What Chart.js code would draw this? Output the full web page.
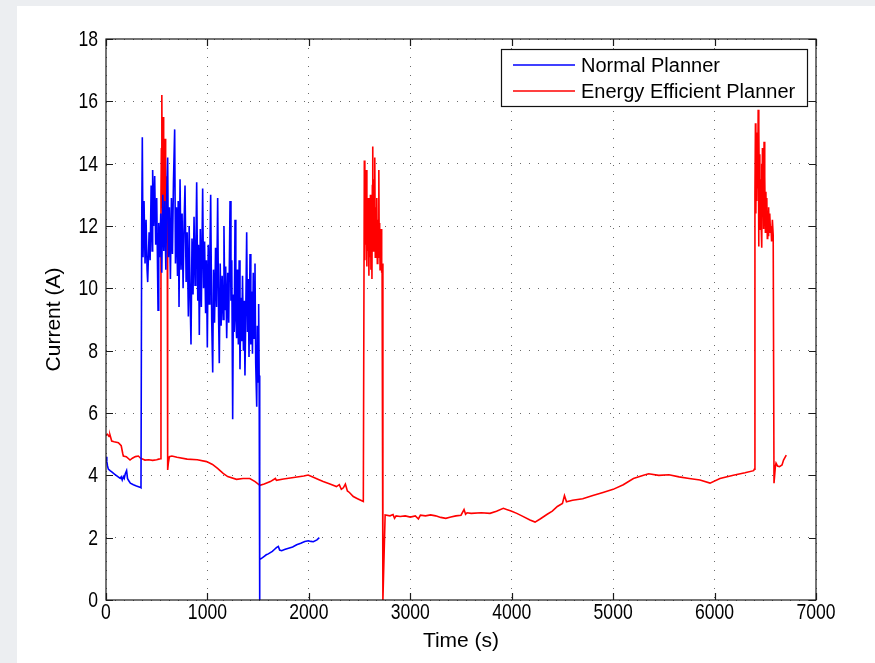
<!DOCTYPE html>
<html>
<head>
<meta charset="utf-8">
<script src="https://cdn.jsdelivr.net/npm/chart.js@4.4.1/dist/chart.umd.min.js"></script>
<style>
  html,body{margin:0;padding:0;background:#eceef1;}
  #sheet{position:absolute;left:17px;top:6px;right:0;bottom:0;background:#fff;}
  #myChart{position:absolute;left:0;top:0;}
</style>
</head>
<body>
<div id="sheet"></div>
<canvas id="myChart" width="875" height="663"></canvas>
<script>
// axis ticks
const xTicks = [0,1000,2000,3000,4000,5000,6000,7000];
const yTicks = [0,2,4,6,8,10,12,14,16,18];

// Normal planner, [time (s), current (A)]
const normalStart = [[0,4.6],[8,4.45],[15,4.3],[23,4.2],[40,4.15],[60,4.1],[80,4.05],[100,4.0],[120,3.95],[140,3.9],[150,3.95],[160,3.85],[171,3.96],[180,3.9],[190,4.05],[203,4.15],[212,3.9],[220,3.85],[240,3.75],[270,3.7],[300,3.66],[335,3.62],[345,3.6]];
const normalBurst = [[352,12.0],[358,14.85],[365,11.0],[375,12.8],[385,10.8],[395,12.2],[405,10.6],[411,10.2],[425,11.8],[435,10.9],[445,13.3],[455,11.2],[460,13.8],[470,12.0],[480,13.6],[490,11.4],[500,12.9],[513,9.3],[520,12.1],[530,11.0],[540,12.4],[550,10.5],[560,13.0],[570,11.2],[580,12.8],[590,10.6],[600,13.2],[608,14.2],[615,11.0],[625,12.6],[635,10.3],[645,12.9],[655,11.1],[665,13.4],[677,15.1],[685,10.8],[695,12.6],[705,10.4],[712,12.8],[720,9.4],[730,13.5],[740,10.6],[750,12.4],[760,10.0],[770,12.1],[779,13.3],[790,10.2],[800,11.8],[812,9.1],[820,12.0],[830,9.6],[838,8.2],[848,11.6],[858,9.8],[868,12.3],[878,10.1],[886,11.2],[894,13.4],[905,9.6],[912,11.4],[920,8.5],[930,11.9],[940,9.4],[953,13.2],[962,10.0],[972,11.5],[982,9.2],[990,10.9],[999,8.1],[1008,11.4],[1016,9.5],[1024,11.0],[1032,13.0],[1042,9.0],[1052,7.3],[1060,10.6],[1070,8.9],[1080,11.3],[1090,9.4],[1101,12.9],[1110,9.1],[1117,7.6],[1126,10.8],[1135,8.8],[1145,10.4],[1155,9.0],[1163,12.0],[1172,9.3],[1180,10.7],[1190,8.4],[1200,10.5],[1210,8.9],[1223,12.8],[1232,9.6],[1240,10.9],[1249,5.8],[1256,9.8],[1264,8.6],[1272,12.2],[1280,9.0],[1288,8.4],[1296,10.6],[1305,8.2],[1313,10.9],[1321,7.4],[1330,9.7],[1338,8.3],[1346,10.4],[1355,8.0],[1362,9.6],[1370,7.2],[1378,9.2],[1387,11.8],[1395,8.6],[1402,10.3],[1410,7.8],[1420,11.1],[1428,8.2],[1436,9.9],[1444,7.9],[1452,10.5],[1460,8.4],[1469,10.8],[1476,7.6],[1486,6.2],[1492,8.8],[1499,7.0],[1505,9.5],[1510,7.2]];
const normalEnd = [[1513,0],[1518,1.3],[1540,1.35],[1560,1.4],[1580,1.45],[1600,1.48],[1620,1.52],[1640,1.56],[1660,1.62],[1680,1.68],[1699,1.72],[1712,1.6],[1732,1.58],[1760,1.62],[1800,1.66],[1840,1.7],[1880,1.77],[1920,1.82],[1960,1.88],[1995,1.9],[2020,1.88],[2044,1.87],[2080,1.93],[2103,2.0]];

// Energy efficient planner, [time (s), current (A)]
const efficientStart = [[0,5.3],[15,5.32],[30,5.25],[39,5.3],[56,5.1],[80,5.08],[122,5.05],[150,4.95],[165,4.7],[171,4.62],[200,4.6],[237,4.49],[260,4.55],[290,4.6],[319,4.62],[340,4.55],[384,4.49],[420,4.5],[460,4.48],[500,4.5],[520,4.52],[539,4.53]];
const efficientSpike1 = [[542,13.0],[546,14.5],[549,12.6],[552,16.2],[555,13.0],[558,15.0],[561,12.4],[564,15.5],[567,12.8],[570,14.2],[573,12.2],[576,14.8],[579,12.6],[582,14.0],[585,11.8],[588,14.8],[591,12.4],[594,13.6],[597,11.6],[600,13.2],[604,12.0]];
const efficientMid1 = [[608,4.17],[615,4.4],[625,4.6],[650,4.62],[700,4.58],[800,4.52],[900,4.5],[992,4.44],[1050,4.35],[1100,4.22],[1155,4.06],[1200,3.96],[1287,3.87],[1350,3.9],[1418,3.9],[1470,3.8],[1517,3.68],[1560,3.72],[1620,3.8],[1670,3.9],[1680,3.84],[1750,3.88],[1850,3.93],[1950,3.98],[1993,4.01],[2050,3.93],[2100,3.86],[2141,3.8],[2208,3.72],[2272,3.64],[2300,3.7],[2320,3.55],[2340,3.6],[2360,3.72],[2380,3.5],[2400,3.45],[2438,3.32],[2480,3.25],[2537,3.16]];
const efficientSpike2 = [[2547,14.1],[2552,10.9],[2557,13.2],[2562,11.4],[2567,13.8],[2572,10.7],[2577,12.6],[2582,11.2],[2587,12.9],[2592,10.4],[2597,12.2],[2602,11.0],[2607,13.0],[2612,10.6],[2618,12.4],[2622,10.3],[2626,13.3],[2630,14.55],[2635,11.2],[2640,13.5],[2645,11.8],[2650,14.2],[2655,11.0],[2660,12.6],[2665,11.3],[2670,12.9],[2675,10.8],[2680,12.2],[2685,11.6],[2690,13.8],[2694,11.0],[2698,12.1],[2702,10.6],[2706,11.7],[2710,11.0],[2714,11.9],[2718,10.5],[2722,10.8],[2730,0]];
const efficientMid2 = [[2752,2.73],[2800,2.7],[2830,2.74],[2845,2.62],[2860,2.7],[2900,2.68],[2950,2.7],[3000,2.66],[3050,2.7],[3080,2.6],[3100,2.72],[3150,2.7],[3200,2.73],[3250,2.7],[3300,2.65],[3350,2.62],[3400,2.66],[3450,2.7],[3500,2.72],[3530,2.9],[3545,2.75],[3560,2.8],[3600,2.78],[3700,2.8],[3786,2.78],[3850,2.85],[3917,2.94],[3950,2.9],[4000,2.85],[4050,2.78],[4100,2.7],[4180,2.57],[4230,2.5],[4280,2.6],[4350,2.75],[4400,2.85],[4450,3.0],[4500,3.1],[4520,3.35],[4540,3.15],[4600,3.2],[4700,3.25],[4800,3.35],[4900,3.45],[5000,3.55],[5100,3.7],[5200,3.9],[5300,4.0],[5350,4.05],[5450,4.0],[5550,4.02],[5650,3.95],[5750,3.9],[5856,3.85],[5955,3.75],[6053,3.9],[6185,4.0],[6300,4.08],[6385,4.15],[6393,4.2]];
const efficientSpike3 = [[6398,13.0],[6403,15.3],[6407,12.4],[6411,14.6],[6416,12.8],[6420,15.0],[6425,13.2],[6430,15.73],[6434,11.34],[6438,15.2],[6442,12.6],[6446,14.3],[6450,11.9],[6454,13.5],[6458,12.2],[6463,14.0],[6467,11.3],[6472,14.5],[6476,12.9],[6480,13.8],[6484,11.9],[6488,14.7],[6492,12.5],[6497,13.6],[6501,11.8],[6506,13.1],[6510,12.3],[6515,12.9],[6520,11.6],[6524,12.5],[6528,11.7],[6533,12.6],[6538,11.8],[6544,12.4],[6550,11.9],[6556,12.0],[6562,11.5],[6570,12.2],[6578,11.7]];
const efficientEnd = [[6586,3.75],[6600,4.3],[6606,4.39],[6620,4.3],[6640,4.28],[6665,4.33],[6680,4.49],[6707,4.65]];

const normalPlanner = [].concat(normalStart, normalBurst, normalEnd);
const efficientPlanner = [].concat(efficientStart, efficientSpike1, efficientMid1, efficientSpike2, efficientMid2, efficientSpike3, efficientEnd);

const toPoints = (arr) => arr.map(p => ({x:p[0], y:p[1]}));

// box, inward ticks, tick labels and legend, like a MATLAB axes
const matlabAxes = {
    id:'matlabAxes',
    afterDatasetsDraw(chart){
        const c = chart.ctx;
        const a = chart.chartArea;
        const xs = chart.scales.x, ys = chart.scales.y;
        c.save();
        c.strokeStyle = '#1a1a1a';
        c.lineWidth = 1.2;
        c.strokeRect(a.left, a.top, a.right - a.left, a.bottom - a.top);
        c.beginPath();
        xTicks.forEach(v => {
            const px = Math.round(xs.getPixelForValue(v)) + 0.5;
            c.moveTo(px, a.bottom); c.lineTo(px, a.bottom - 7);
            c.moveTo(px, a.top); c.lineTo(px, a.top + 7);
        });
        yTicks.forEach(v => {
            const py = Math.round(ys.getPixelForValue(v)) + 0.5;
            c.moveTo(a.left, py); c.lineTo(a.left + 7, py);
            c.moveTo(a.right, py); c.lineTo(a.right - 7, py);
        });
        c.stroke();

        // tick labels, a bit condensed like the original
        c.fillStyle = '#000';
        c.font = "22px 'Liberation Sans', Arial, sans-serif";
        c.textAlign = 'center';
        c.textBaseline = 'top';
        xTicks.forEach(v => {
            c.save();
            c.translate(xs.getPixelForValue(v), a.bottom + 2);
            c.scale(0.8, 1);
            c.fillText(String(v), 0, 0);
            c.restore();
        });
        c.textAlign = 'right';
        c.textBaseline = 'middle';
        yTicks.forEach(v => {
            c.save();
            c.translate(a.left - 8, ys.getPixelForValue(v) + 1);
            c.scale(0.8, 1);
            c.fillText(String(v), 0, 0);
            c.restore();
        });

        // legend box
        const lx = 501, ly = 49, lw = 306, lh = 57;
        c.fillStyle = '#fff';
        c.fillRect(lx, ly, lw, lh);
        c.strokeStyle = '#111';
        c.lineWidth = 1.2;
        c.strokeRect(lx + 0.5, ly + 0.5, lw, lh);
        c.font = "20px 'Liberation Sans', Arial, sans-serif";
        c.textBaseline = 'middle';
        c.textAlign = 'left';
        chart.data.datasets.forEach((ds, i) => {
            const rowY = ly + 16 + i * 26;
            c.strokeStyle = ds.borderColor;
            c.lineWidth = 1.3;
            c.beginPath();
            c.moveTo(513, rowY); c.lineTo(575, rowY);
            c.stroke();
            c.fillStyle = '#000';
            c.fillText(ds.label, 581, rowY + 1);
        });
        c.restore();
    }
};

var ctx = document.getElementById('myChart');
const myChart = new Chart(ctx, {
    type:'line',
    data:{
        datasets:[
            {
                label:'Normal Planner',
                data:toPoints(normalPlanner),
                borderColor:'#0000ff',
                borderWidth:1.6,
                pointRadius:0,
                tension:0
            },
            {
                label:'Energy Efficient Planner',
                data:toPoints(efficientPlanner),
                borderColor:'#ff0000',
                borderWidth:1.6,
                pointRadius:0,
                tension:0
            }
        ]
    },
    options:{
        responsive:false,
        animation:false,
        devicePixelRatio:1,
        layout:{
            padding:{ top:39, right:59, left:0, bottom:0 }
        },
        plugins:{
            legend:{ display:false },
            tooltip:{ enabled:false }
        },
        scales:{
            x:{
                type:'linear',
                min:0,
                max:7000,
                afterBuildTicks:(s)=>{ s.ticks = xTicks.map(v => ({value:v})); },
                afterFit:(s)=>{ s.height = 63; },
                ticks:{ display:false },
                grid:{ color:'#6a6a6a', lineWidth:1, drawTicks:false },
                border:{ display:false, dash:[1,8] },
                title:{
                    display:true,
                    text:'Time (s)',
                    color:'#000',
                    font:{ family:"'Liberation Sans', Arial, sans-serif", size:21 },
                    padding:{ top:0, bottom:9 }
                }
            },
            y:{
                type:'linear',
                min:0,
                max:18,
                afterBuildTicks:(s)=>{ s.ticks = yTicks.map(v => ({value:v})); },
                afterFit:(s)=>{ s.width = 106; },
                ticks:{ display:false },
                grid:{ color:'#6a6a6a', lineWidth:1, drawTicks:false },
                border:{ display:false, dash:[1,8] },
                title:{
                    display:true,
                    text:'Current (A)',
                    color:'#000',
                    font:{ family:"'Liberation Sans', Arial, sans-serif", size:21 },
                    padding:{ top:42, bottom:0 }
                }
            }
        }
    },
    plugins:[matlabAxes]
});
</script>
</body>
</html>
